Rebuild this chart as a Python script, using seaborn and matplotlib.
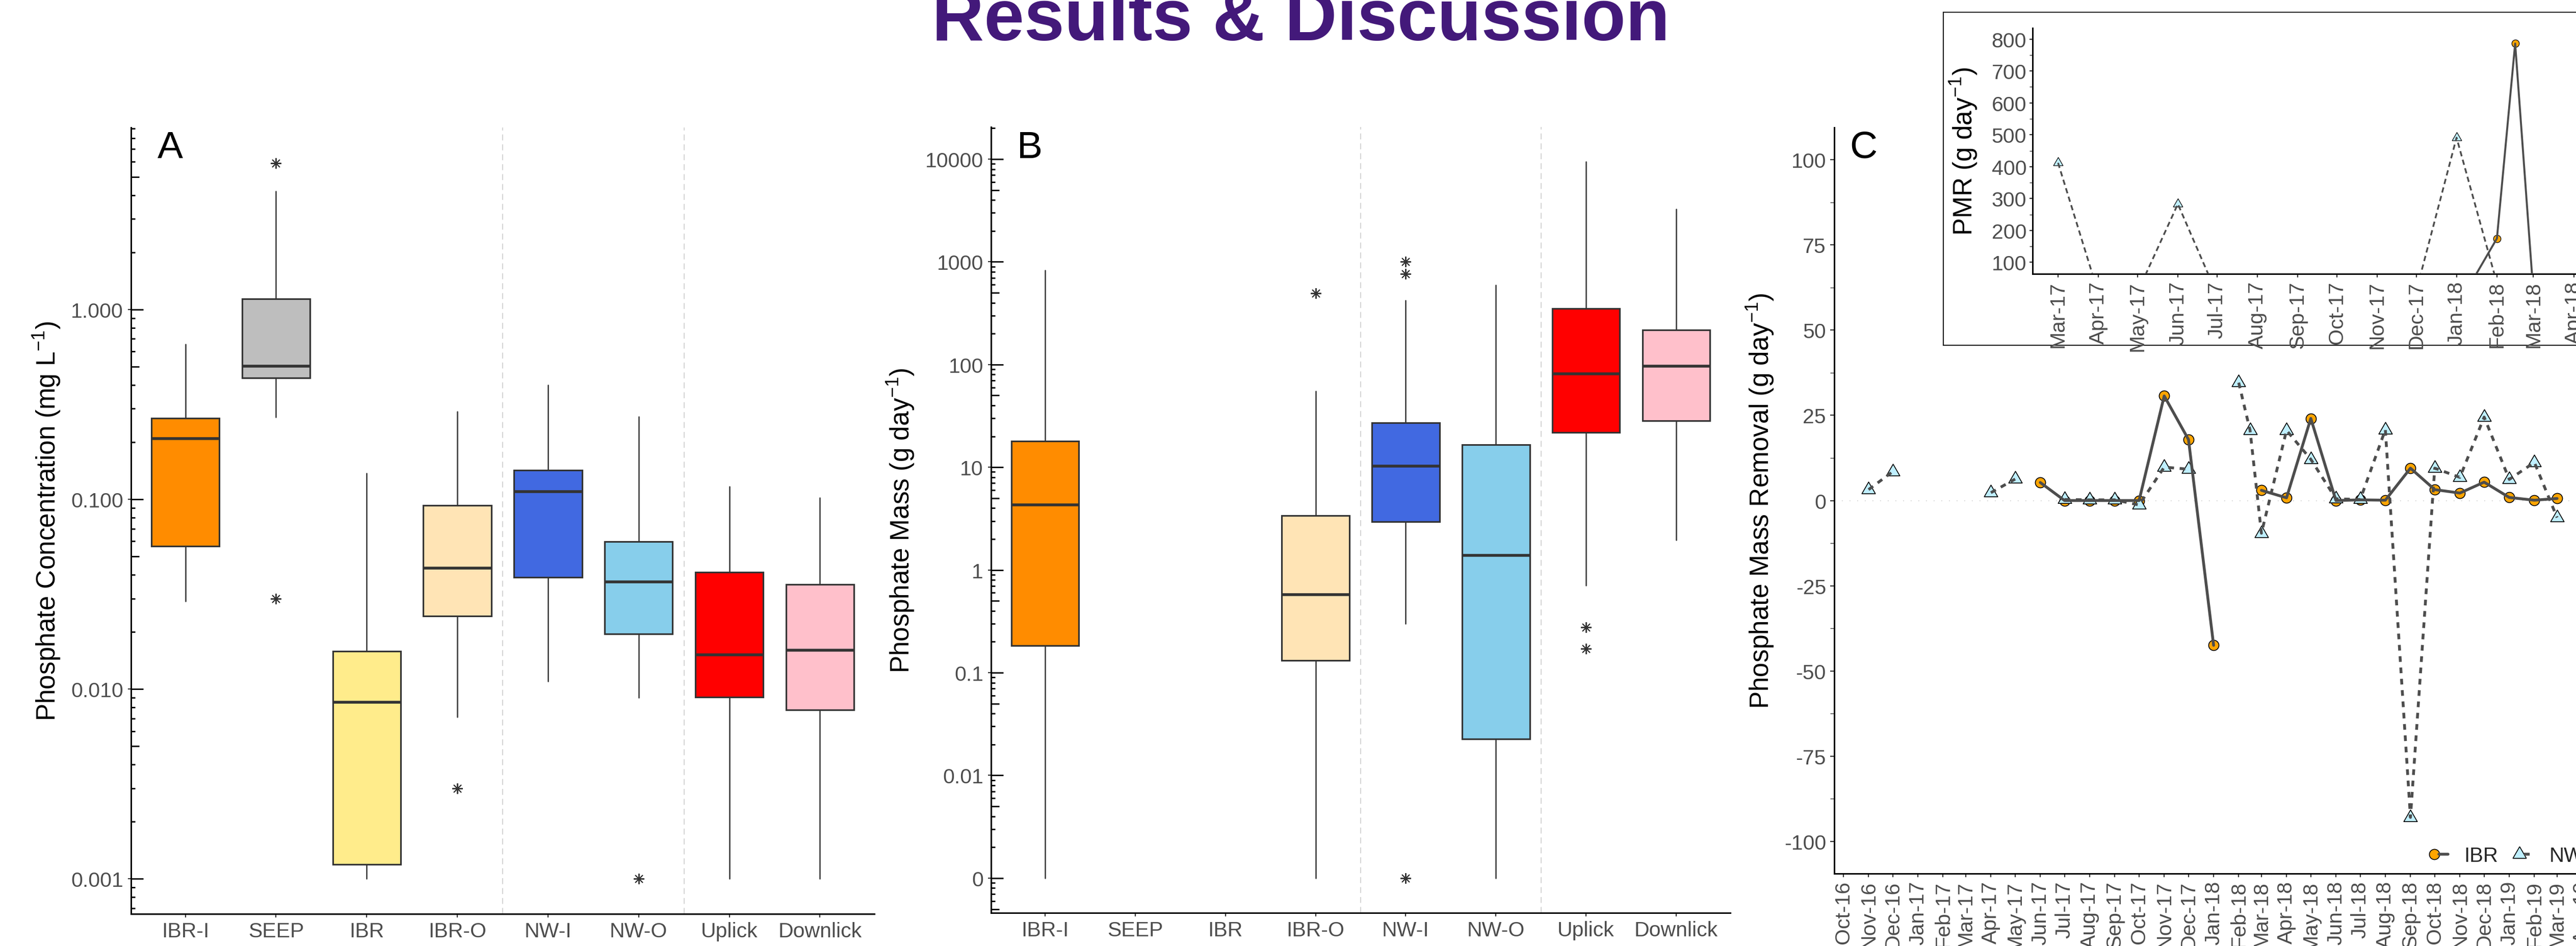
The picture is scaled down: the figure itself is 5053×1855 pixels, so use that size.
import numpy as np
import pandas as pd
import matplotlib
matplotlib.use("Agg")
import matplotlib.pyplot as plt
import matplotlib.dates as mdates
from matplotlib.legend_handler import HandlerTuple
from matplotlib.lines import Line2D
import seaborn as sns

# ---------------- data ----------------
sites = ["IBR-I", "SEEP", "IBR", "IBR-O", "NW-I", "NW-O", "Uplick", "Downlick"]
site_colors = ["#FF8C00", "#BEBEBE", "#FFEC8B", "#FFE4B5",
               "#4169E1", "#87CEEB", "#FF0000", "#FFC0CB"]

# A: phosphate concentration (mg/L), box summaries
conc_whislo = [0.029, 0.27, 0.001, 0.0071, 0.011, 0.009, 0.001, 0.001]
conc_q1 = [0.0565, 0.437, 0.00119, 0.0242, 0.0387, 0.0195, 0.00906, 0.00776]
conc_med = [0.209, 0.504, 0.0085, 0.0433, 0.110, 0.0366, 0.0151, 0.0160]
conc_q3 = [0.268, 1.14, 0.0158, 0.093, 0.142, 0.0597, 0.0412, 0.0355]
conc_whishi = [0.656, 4.2, 0.137, 0.290, 0.401, 0.273, 0.1164, 0.102]
conc_out = [[], [5.9, 0.030], [], [0.0030], [], [0.001], [], []]

# B: phosphate mass (g/day), no data for SEEP and IBR
nan = np.nan
mass_whislo = [0.001, nan, nan, 0.001, 0.301, 0.001, 0.71, 1.96]
mass_q1 = [0.184, nan, nan, 0.131, 2.96, 0.0227, 21.9, 28.5]
mass_med = [4.32, nan, nan, 0.578, 10.3, 1.39, 81.6, 96.8]
mass_q3 = [18.0, nan, nan, 3.40, 27.2, 16.6, 352, 216]
mass_whishi = [832, nan, nan, 55.3, 423, 597, 9490, 3275]
mass_out = [[], [], [], [497], [1009, 767, 0.001], [], [0.278, 0.172], []]

# C: phosphate mass removal (g/day)
c_dates = pd.to_datetime([
    "2016-11-01", "2016-12-01", "2017-01-01", "2017-02-01", "2017-03-01",
    "2017-04-01", "2017-05-01", "2017-06-01", "2017-07-01", "2017-08-01",
    "2017-09-01", "2017-10-01", "2017-11-01", "2017-12-01", "2018-01-01",
    "2018-02-01", "2018-02-15", "2018-03-01", "2018-04-01", "2018-05-01",
    "2018-06-01", "2018-07-01", "2018-08-01", "2018-09-01", "2018-10-01",
    "2018-11-01", "2018-12-01", "2019-01-01", "2019-02-01", "2019-03-01"])
ibr_pmr = np.array([nan, nan, nan, nan, nan,
                    nan, nan, 5.3, 0.0, 0.0,
                    0.0, 0.0, 30.7, 17.9, -42.5,
                    175, 786, 3.0, 0.8, 24.1,
                    0.0, 0.2, 0.1, 9.5, 3.2,
                    2.2, 5.4, 0.9, 0.1, 0.6])
nw_pmr = np.array([3.2, 8.5, nan, nan, 412,
                   2.3, 6.3, 283, 0.3, 0.2,
                   0.2, -1.3, 9.8, 9.2, 491,
                   34.6, 20.6, -9.6, 20.6, 12.1,
                   0.5, 0.3, 20.8, -93.0, 9.5,
                   6.8, 24.5, 6.2, 11.2, -5.0])

# ---------------- style ----------------
sns.set_theme(style="ticks")
plt.rcParams["font.family"] = ["Liberation Sans", "DejaVu Sans"]
plt.rcParams["mathtext.fontset"] = "custom"
plt.rcParams["mathtext.rm"] = "Liberation Sans"
plt.rcParams["mathtext.it"] = "Liberation Sans:italic"
plt.rcParams["mathtext.bf"] = "Liberation Sans:bold"
plt.rcParams["axes.unicode_minus"] = False

W, H = 5053, 1856
fig = plt.figure(figsize=(W / 100, H / 100), dpi=100)


def px_box(l, t, r, b):
    return [l / W, 1 - b / H, (r - l) / W, (b - t) / H]


TICK_GREY = "#4D4D4D"
LINE_GREY = "#4D4D4D"
EDGE = "#333333"
LAB = 37
TICK = 29.5


def style_axis(ax):
    for s in ["top", "right"]:
        ax.spines[s].set_visible(False)
    for s in ["left", "bottom"]:
        ax.spines[s].set_color("black")
        ax.spines[s].set_linewidth(2.2)
    ax.tick_params(which="both", direction="out", color=EDGE,
                   labelcolor=TICK_GREY, labelsize=TICK, width=1.6)


def draw_boxes(ax, lo, q1, med, q3, hi, outs):
    stats, pos, cols = [], [], []
    for i in range(len(sites)):
        if np.isnan(med[i]):
            continue
        stats.append(dict(whislo=lo[i], q1=q1[i], med=med[i], q3=q3[i],
                          whishi=hi[i], fliers=np.array(outs[i], dtype=float)))
        pos.append(i)
        cols.append(site_colors[i])
    art = ax.bxp(stats, positions=pos, widths=0.75, patch_artist=True,
                 showcaps=False,
                 boxprops=dict(edgecolor=EDGE, linewidth=2.3),
                 whiskerprops=dict(color=EDGE, linewidth=1.8),
                 medianprops=dict(color=EDGE, linewidth=4.0),
                 flierprops=dict(marker=(8, 2, 0), markersize=15,
                                 markeredgecolor=EDGE, markeredgewidth=1.4,
                                 linestyle="none"))
    for patch, c in zip(art["boxes"], cols):
        patch.set_facecolor(c)
        patch.set_zorder(2)


def log_ticks(ax, width_px):
    lo, hi = ax.get_ylim()
    groups = {24: [], 16: [], 8: []}
    for k in range(int(np.floor(np.log10(lo))), int(np.ceil(np.log10(hi))) + 1):
        for m in range(1, 10):
            v = m * 10.0 ** k
            if lo <= v <= hi:
                L = 24 if m == 1 else (16 if m == 5 else 8)
                groups[L].append(v)
    for L, ys in groups.items():
        ax.hlines(ys, 0, L / width_px, transform=ax.get_yaxis_transform(),
                  colors="black", linewidth=2.0, clip_on=False, zorder=4)


def box_panel(ax, width_px, ylim, yticks, ylabels, lo, q1, med, q3, hi, outs,
              ylabel, label_x):
    style_axis(ax)
    ax.set_yscale("log")
    ax.set_xlim(-0.6, 7.6)
    ax.set_ylim(*ylim)
    for xv in [3.5, 5.5]:
        ax.axvline(xv, color="#D3D3D3", linewidth=1.4, linestyle=(0, (6, 4)),
                   zorder=0)
    draw_boxes(ax, lo, q1, med, q3, hi, outs)
    ax.set_xticks(range(len(sites)))
    ax.set_xticklabels(sites)
    ax.set_yticks(yticks)
    ax.set_yticklabels(ylabels)
    ax.yaxis.set_minor_locator(matplotlib.ticker.NullLocator())
    ax.tick_params(axis="x", length=5, pad=5.5)
    ax.tick_params(axis="y", length=4.3, pad=6.5)
    log_ticks(ax, width_px)
    ax.set_ylabel(ylabel, fontsize=LAB, color="black")
    ax.yaxis.set_label_coords(label_x, 0.5)


# ---------------- panel A ----------------
axA = fig.add_axes(px_box(257, 251, 1715, 1793))
box_panel(axA, 1458, (0.000653, 9.1), [0.001, 0.01, 0.1, 1.0],
          ["0.001", "0.010", "0.100", "1.000"],
          conc_whislo, conc_q1, conc_med, conc_q3, conc_whishi, conc_out,
          "Phosphate Concentration (mg L$^{-1}$)", -0.0919)

# ---------------- panel B ----------------
axB = fig.add_axes(px_box(1944, 250, 3394, 1791))
box_panel(axB, 1450, (0.000459, 20560),
          [0.001, 0.01, 0.1, 1, 10, 100, 1000, 10000],
          ["0", "0.01", "0.1", "1", "10", "100", "1000", "10000"],
          mass_whislo, mass_q1, mass_med, mass_q3, mass_whishi, mass_out,
          "Phosphate Mass (g day$^{-1}$)", -0.1007)

# ---------------- panel C ----------------
lim = 109.5
ibr_main = np.where(np.abs(ibr_pmr) <= lim, ibr_pmr, np.nan)
nw_main = np.where(np.abs(nw_pmr) <= lim, nw_pmr, np.nan)

axC = fig.add_axes(px_box(3598, 251, 5161, 1714))
style_axis(axC)
axC.axhline(0, color="#CCCCCC", linewidth=1.2, linestyle=(0, (1, 8)), zorder=0)
sns.scatterplot(x=c_dates, y=ibr_main, ax=axC, marker="o", s=14.5 ** 2,
                color="#FFA500", edgecolor="black", linewidth=1.2, zorder=2,
                legend=False)
sns.scatterplot(x=c_dates, y=nw_main, ax=axC, marker=(3, 0, 0), s=22 ** 2,
                color="#BFEFFF", edgecolor="black", linewidth=1.2, zorder=2,
                legend=False)
axC.plot(c_dates, ibr_main, color=LINE_GREY, linewidth=4.0, zorder=3)
axC.plot(c_dates, nw_main, color=LINE_GREY, linewidth=4.0,
         linestyle=(0, (2, 2)), zorder=3)
axC.set_xlim(pd.Timestamp("2016-09-19 16:00"), pd.Timestamp("2019-05-31 08:00"))
axC.set_ylim(-lim, lim)
axC.set_yticks(np.arange(-100, 101, 25))
axC.set_yticks(np.arange(-87.5, 100, 25), minor=True)
axC.xaxis.set_major_locator(mdates.MonthLocator())
axC.xaxis.set_major_formatter(mdates.DateFormatter("%b-%y"))
axC.tick_params(axis="x", rotation=90, length=5, pad=5)
axC.tick_params(axis="y", which="major", length=5.8, pad=5.8)
axC.tick_params(axis="y", which="minor", length=5.8, width=1.0)
axC.set_xlabel("")
axC.set_ylabel("Phosphate Mass Removal (g day$^{-1}$)", fontsize=LAB,
               color="black")
axC.yaxis.set_label_coords(-0.0729, 0.5)

h_ibr_m = Line2D([], [], marker="o", markersize=14.5, markerfacecolor="#FFA500",
                 markeredgecolor="black", markeredgewidth=1.2, linestyle="none")
h_ibr_l = Line2D([], [], color=LINE_GREY, linewidth=4.0)
h_nw_m = Line2D([], [], marker=(3, 0, 0), markersize=22,
                markerfacecolor="#BFEFFF", markeredgecolor="black",
                markeredgewidth=1.2, linestyle="none")
h_nw_l = Line2D([], [], color=LINE_GREY, linewidth=4.0, linestyle=(0, (2, 2)))
axC.legend(handles=[(h_ibr_m, h_ibr_l), (h_nw_m, h_nw_l)], labels=["IBR", "NW"],
           handler_map={tuple: HandlerTuple(ndivide=None)}, ncol=2,
           frameon=False, fontsize=29, loc="center left",
           bbox_to_anchor=(4766 / W, 1 - 1679 / H), bbox_transform=fig.transFigure,
           handlelength=0.9, handletextpad=0.78, columnspacing=0.8,
           borderpad=0, borderaxespad=0)

# ---------------- inset ----------------
frame = fig.add_axes(px_box(3812, 25, 5300, 678))
frame.set_zorder(5)
frame.set_facecolor("white")
frame.set_xticks([])
frame.set_yticks([])
for s in frame.spines.values():
    s.set_visible(True)
    s.set_color("black")
    s.set_linewidth(1.3)

ins = fig.add_axes(px_box(3987, 56, 5161, 538))
ins.set_zorder(6)
ins.set_facecolor("none")
style_axis(ins)
sns.scatterplot(x=c_dates, y=ibr_pmr, ax=ins, marker="o", s=10.5 ** 2,
                color="#FFA500", edgecolor="black", linewidth=0.9, zorder=2,
                legend=False)
sns.scatterplot(x=c_dates, y=nw_pmr, ax=ins, marker=(3, 0, 0), s=15.5 ** 2,
                color="#BFEFFF", edgecolor="black", linewidth=0.9, zorder=2,
                legend=False)
ins.plot(c_dates, ibr_pmr, color=LINE_GREY, linewidth=2.8, zorder=3)
ins.plot(c_dates, nw_pmr, color=LINE_GREY, linewidth=2.5,
         linestyle=(0, (3.0, 2.0)), zorder=3)
ins.set_xlim(pd.Timestamp("2017-02-09 10:00"), pd.Timestamp("2018-05-15"))
ins.set_ylim(64, 834.5)
ins.set_yticks(np.arange(100, 801, 100))
ins.set_yticks(np.arange(150, 801, 100), minor=True)
ins.xaxis.set_major_locator(mdates.MonthLocator())
ins.xaxis.set_major_formatter(mdates.DateFormatter("%b-%y"))
ins.tick_params(axis="x", rotation=90, length=5, pad=5)
ins.tick_params(axis="y", which="major", length=4.5, pad=4)
ins.tick_params(axis="y", which="minor", length=4.5, width=1.0)
ins.set_xlabel("")
ins.set_ylabel("PMR (g day$^{-1}$)", fontsize=LAB, color="black")
ins.yaxis.set_label_coords(-0.0886, 0.5)

# ---------------- letters & title ----------------
for txt, xp in [("A", 309), ("B", 1995), ("C", 3628)]:
    fig.text(xp / W, 1 - 310 / H, txt, fontsize=54, color="black",
             ha="left", va="baseline")
fig.text(2552 / W, 1 - 79 / H, "Results & Discussion", fontsize=102,
         fontweight="bold", color="#43197A", ha="center", va="baseline")

fig.savefig("out.png", dpi=100)
